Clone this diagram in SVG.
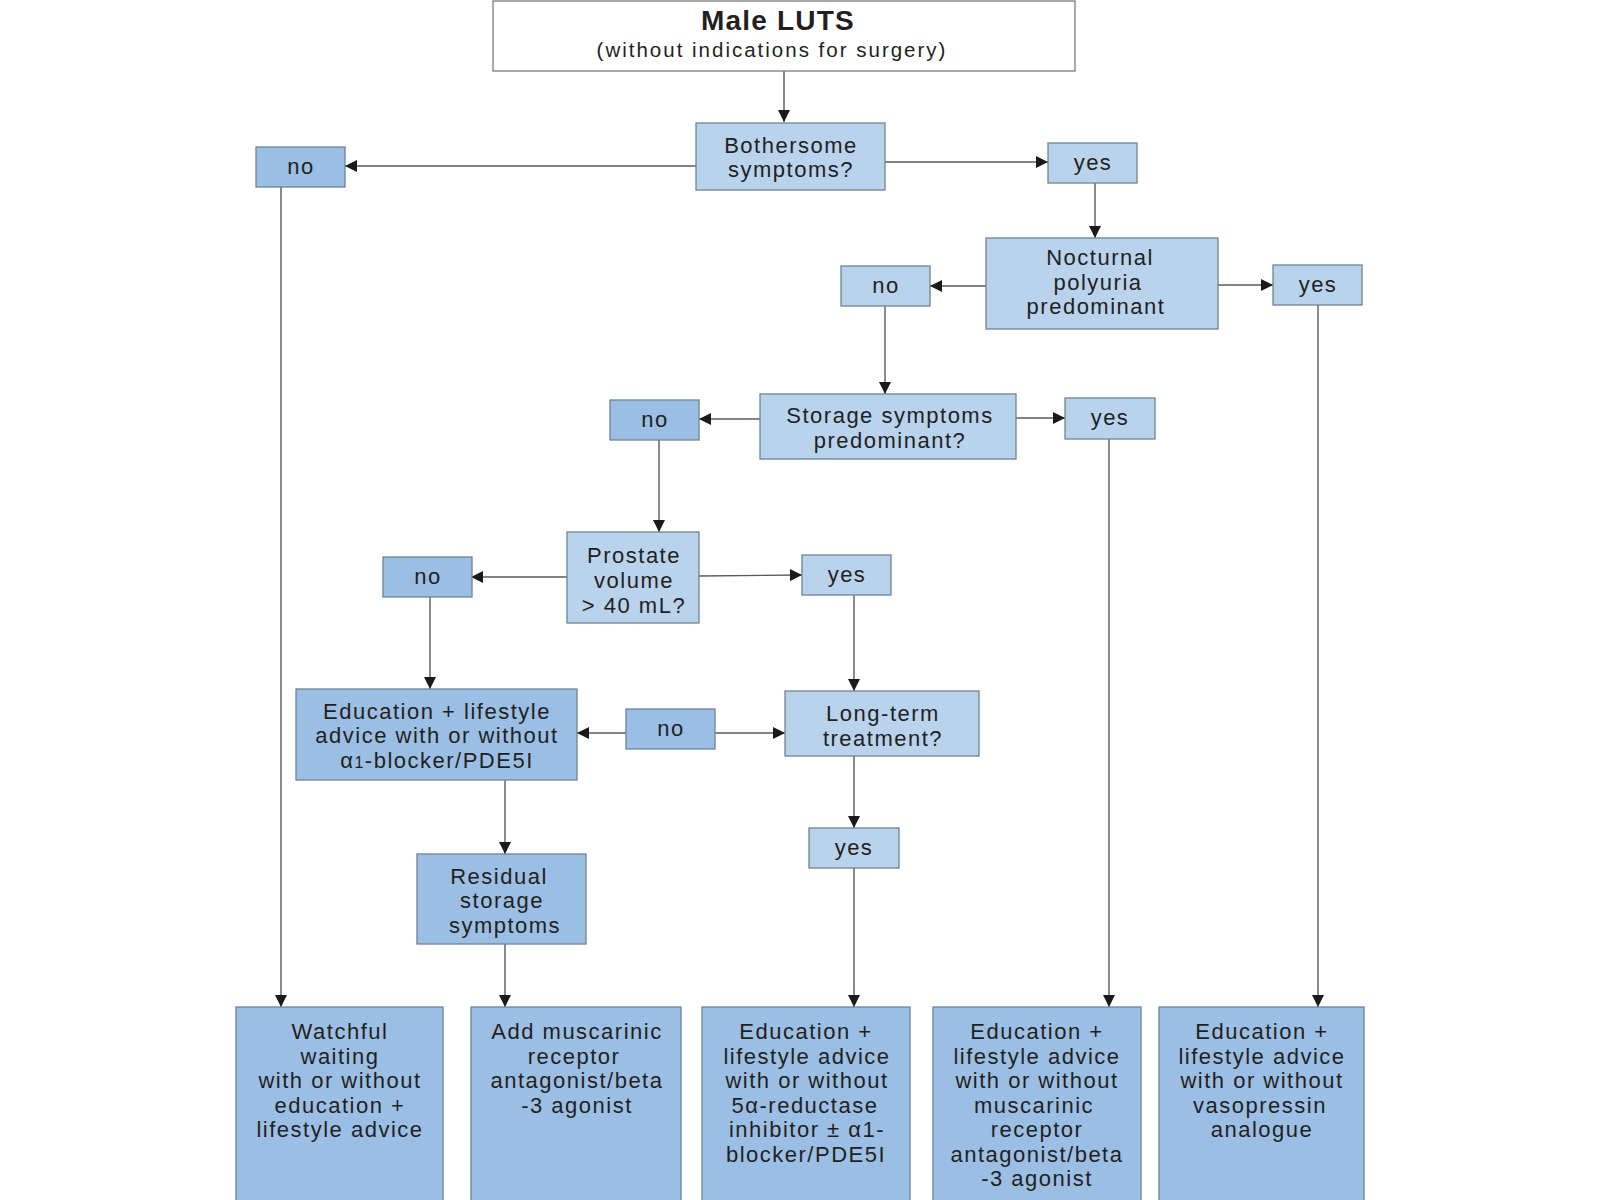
<svg xmlns="http://www.w3.org/2000/svg" width="1600" height="1200" viewBox="0 0 1600 1200">
<defs>
<marker id="ah" viewBox="0 0 10 10" refX="10" refY="5" markerWidth="13" markerHeight="12" markerUnits="userSpaceOnUse" orient="auto">
<path d="M0,0 L10,5 L0,10 z" fill="#1a1a1a"/>
</marker>
</defs>
<style>
.w{fill:#ffffff;stroke:#7a7a7a;stroke-width:1.3}
.l{fill:#b9d3ed;stroke:#6f8396;stroke-width:1.3}
.d{fill:#9bbfe4;stroke:#6f8396;stroke-width:1.3}
.t{font-family:"Liberation Sans",Arial,sans-serif;font-size:22px;letter-spacing:1.5px;fill:#231f20;text-anchor:middle}
.b{font-weight:bold;font-size:28px;letter-spacing:1.2px}
.s{font-size:20.5px;letter-spacing:2px}
.c line{stroke:#5a5a5a;stroke-width:1.4;fill:none;marker-end:url(#ah)}
</style>
<rect width="1600" height="1200" fill="#ffffff"/>
<g class="c" id="connectors">
<line x1="784" y1="71" x2="784" y2="122"/>
<line x1="696" y1="166" x2="345" y2="166"/>
<line x1="885" y1="162" x2="1048" y2="162"/>
<line x1="1095" y1="183" x2="1095" y2="238"/>
<line x1="986" y1="286" x2="930" y2="286"/>
<line x1="1218" y1="285" x2="1273" y2="285"/>
<line x1="885" y1="306" x2="885" y2="394"/>
<line x1="760" y1="419" x2="699" y2="419"/>
<line x1="1016" y1="418" x2="1065" y2="418"/>
<line x1="659" y1="440" x2="659" y2="532"/>
<line x1="567" y1="577" x2="471" y2="577"/>
<line x1="699" y1="576" x2="802" y2="575"/>
<line x1="430" y1="597" x2="430" y2="689"/>
<line x1="854" y1="595" x2="854" y2="691"/>
<line x1="626" y1="733" x2="577" y2="733"/>
<line x1="715" y1="733" x2="785" y2="733"/>
<line x1="854" y1="756" x2="854" y2="828"/>
<line x1="854" y1="868" x2="854" y2="1007"/>
<line x1="505" y1="780" x2="505" y2="854"/>
<line x1="505" y1="944" x2="505" y2="1007"/>
<line x1="281" y1="187" x2="281" y2="1007"/>
<line x1="1109" y1="439" x2="1109" y2="1007"/>
<line x1="1318" y1="305" x2="1318" y2="1007"/>
</g>
<g id="start">
<rect class="w" x="493" y="1" width="582" height="70"/>
<text class="t b" x="778" y="30">Male LUTS</text>
<text class="t s" x="772" y="57">(without indications for surgery)</text>
</g>
<g id="bothersome">
<rect class="l" x="696" y="123" width="189" height="67"/>
<text class="t" x="791" y="153">Bothersome</text>
<text class="t" x="791" y="177">symptoms?</text>
</g>
<g id="no1">
<rect class="d" x="256" y="147" width="89" height="40"/>
<text class="t" x="301" y="174">no</text>
</g>
<g id="yes1">
<rect class="l" x="1048" y="143" width="89" height="40"/>
<text class="t" x="1093" y="170">yes</text>
</g>
<g id="nocturnal">
<rect class="l" x="986" y="238" width="232" height="91"/>
<text class="t" x="1100" y="265">Nocturnal</text>
<text class="t" x="1098" y="290">polyuria</text>
<text class="t" x="1096" y="314">predominant</text>
</g>
<g id="no2">
<rect class="l" x="841" y="266" width="89" height="40"/>
<text class="t" x="886" y="293">no</text>
</g>
<g id="yes2">
<rect class="l" x="1273" y="265" width="89" height="40"/>
<text class="t" x="1318" y="292">yes</text>
</g>
<g id="storage">
<rect class="l" x="760" y="394" width="256" height="65"/>
<text class="t" x="890" y="423">Storage symptoms</text>
<text class="t" x="890" y="448">predominant?</text>
</g>
<g id="no3">
<rect class="d" x="610" y="400" width="89" height="40"/>
<text class="t" x="655" y="427">no</text>
</g>
<g id="yes3">
<rect class="l" x="1065" y="398" width="90" height="41"/>
<text class="t" x="1110" y="425">yes</text>
</g>
<g id="prostate">
<rect class="l" x="567" y="532" width="132" height="91"/>
<text class="t" x="634" y="563">Prostate</text>
<text class="t" x="634" y="588">volume</text>
<text class="t" x="634" y="613">&gt; 40 mL?</text>
</g>
<g id="no4">
<rect class="d" x="383" y="557" width="89" height="40"/>
<text class="t" x="428" y="584">no</text>
</g>
<g id="yes4">
<rect class="l" x="802" y="555" width="89" height="40"/>
<text class="t" x="847" y="582">yes</text>
</g>
<g id="education1">
<rect class="d" x="296" y="689" width="281" height="91"/>
<text class="t" x="437" y="719">Education + lifestyle</text>
<text class="t" x="437" y="743">advice with or without</text>
<text class="t" x="437" y="768">α<tspan font-size="16">1</tspan>-blocker/PDE5I</text>
</g>
<g id="no5">
<rect class="d" x="626" y="709" width="89" height="40"/>
<text class="t" x="671" y="736">no</text>
</g>
<g id="longterm">
<rect class="l" x="785" y="691" width="194" height="65"/>
<text class="t" x="883" y="721">Long-term</text>
<text class="t" x="883" y="746">treatment?</text>
</g>
<g id="yes5">
<rect class="l" x="809" y="828" width="90" height="40"/>
<text class="t" x="854" y="855">yes</text>
</g>
<g id="residual">
<rect class="d" x="417" y="854" width="169" height="90"/>
<text class="t" x="499" y="884">Residual</text>
<text class="t" x="502" y="908">storage</text>
<text class="t" x="505" y="933">symptoms</text>
</g>
<g id="watchful">
<rect class="d" x="236" y="1007" width="207" height="200"/>
<text class="t" x="340" y="1039">Watchful<tspan x="340" dy="24.5">waiting</tspan><tspan x="340" dy="24.5">with or without</tspan><tspan x="340" dy="24.5">education +</tspan><tspan x="340" dy="24.5">lifestyle advice</tspan></text>
</g>
<g id="muscarinic">
<rect class="d" x="471" y="1007" width="210" height="200"/>
<text class="t" x="577" y="1039">Add muscarinic<tspan x="574" dy="24.5">receptor</tspan><tspan x="577" dy="24.5">antagonist/beta</tspan><tspan x="577" dy="24.5">-3 agonist</tspan></text>
</g>
<g id="reductase">
<rect class="d" x="702" y="1007" width="208" height="200"/>
<text class="t" x="806" y="1039">Education +<tspan x="807" dy="24.5">lifestyle advice</tspan><tspan x="807" dy="24.5">with or without</tspan><tspan x="805" dy="24.5">5α-reductase</tspan><tspan x="807" dy="24.5">inhibitor ± α1-</tspan><tspan x="806" dy="24.5">blocker/PDE5I</tspan></text>
</g>
<g id="antagonist">
<rect class="d" x="933" y="1007" width="208" height="200"/>
<text class="t" x="1037" y="1039">Education +<tspan x="1037" dy="24.5">lifestyle advice</tspan><tspan x="1037" dy="24.5">with or without</tspan><tspan x="1034" dy="24.5">muscarinic</tspan><tspan x="1037" dy="24.5">receptor</tspan><tspan x="1037" dy="24.5">antagonist/beta</tspan><tspan x="1037" dy="24.5">-3 agonist</tspan></text>
</g>
<g id="vasopressin">
<rect class="d" x="1159" y="1007" width="205" height="200"/>
<text class="t" x="1262" y="1039">Education +<tspan x="1262" dy="24.5">lifestyle advice</tspan><tspan x="1262" dy="24.5">with or without</tspan><tspan x="1260" dy="24.5">vasopressin</tspan><tspan x="1262" dy="24.5">analogue</tspan></text>
</g>
</svg>
